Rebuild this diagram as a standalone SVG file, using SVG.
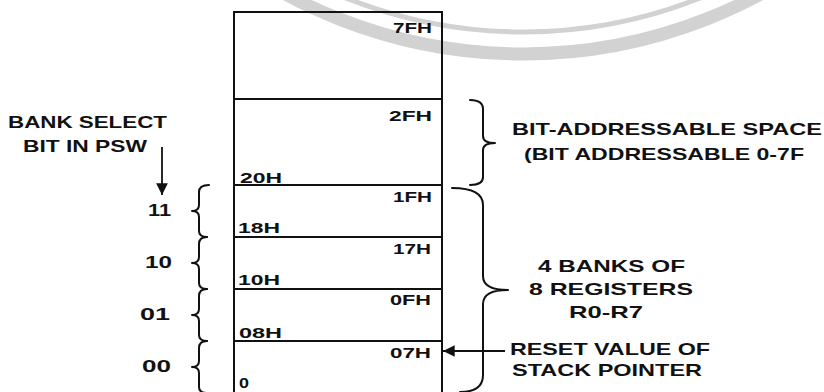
<svg xmlns="http://www.w3.org/2000/svg" width="824" height="392" viewBox="0 0 824 392">
<style>
  .t { font-family: "Liberation Sans", Arial, sans-serif; font-weight: bold; fill: #111; }
  .big { font-size: 17px; }
  .sm { font-size: 14px; }
  .blk { fill: none; stroke: #111; stroke-width: 2; }
  .brace { fill: none; stroke: #111; stroke-width: 2; stroke-linecap: round; stroke-linejoin: round; }
  .ln { fill: none; stroke: #111; stroke-width: 1.8; }
  .wm { fill: none; stroke: #d2d2d2; }
</style>
<defs>
  <marker id="ah" viewBox="0 0 10 10" refX="10" refY="5" markerWidth="6.5" markerHeight="6.5" orient="auto" markerUnits="strokeWidth">
    <path d="M0,0 L10,5 L0,10 Z" fill="#111"/>
  </marker>
</defs>
<rect width="824" height="392" fill="#fff"/>
<g id="watermark">
  <circle class="wm" cx="523" cy="-446" r="500" stroke-width="13"/>
  <circle class="wm" cx="523" cy="-446" r="478" stroke-width="5" stroke="#dedede"/>
</g>
<g id="block-7F">
  <rect class="blk" x="234" y="12" width="208" height="87"/>
  <text class="t sm" x="393" y="33" textLength="39" lengthAdjust="spacingAndGlyphs">7FH</text>
</g>
<g id="block-bit-addressable">
  <rect class="blk" x="234" y="99" width="208" height="86"/>
  <text class="t sm" x="389" y="121" textLength="43" lengthAdjust="spacingAndGlyphs">2FH</text>
  <text class="t sm" x="240" y="183" textLength="42" lengthAdjust="spacingAndGlyphs">20H</text>
</g>
<g id="bank-3">
  <rect class="blk" x="234" y="185" width="208" height="52"/>
  <text class="t sm" x="393" y="202" textLength="39" lengthAdjust="spacingAndGlyphs">1FH</text>
  <text class="t sm" x="238" y="233" textLength="42" lengthAdjust="spacingAndGlyphs">18H</text>
</g>
<g id="bank-2">
  <rect class="blk" x="234" y="237" width="208" height="52"/>
  <text class="t sm" x="393" y="254" textLength="38" lengthAdjust="spacingAndGlyphs">17H</text>
  <text class="t sm" x="238" y="285" textLength="42" lengthAdjust="spacingAndGlyphs">10H</text>
</g>
<g id="bank-1">
  <rect class="blk" x="234" y="289" width="208" height="52"/>
  <text class="t sm" x="390" y="305" textLength="41" lengthAdjust="spacingAndGlyphs">0FH</text>
  <text class="t sm" x="239" y="338" textLength="43" lengthAdjust="spacingAndGlyphs">08H</text>
</g>
<g id="bank-0">
  <rect class="blk" x="234" y="341" width="208" height="62"/>
  <text class="t sm" x="390" y="358" textLength="41" lengthAdjust="spacingAndGlyphs">07H</text>
  <text class="t sm" x="239" y="388" textLength="10" lengthAdjust="spacingAndGlyphs">0</text>
</g>
<g id="label-bank-select">
  <text class="t big" x="8" y="128" textLength="159" lengthAdjust="spacingAndGlyphs">BANK SELECT</text>
  <text class="t big" x="23" y="152" textLength="124" lengthAdjust="spacingAndGlyphs">BIT IN PSW</text>
</g>
<g id="label-bank-bits">
  <text class="t big" x="148" y="216" textLength="23" lengthAdjust="spacingAndGlyphs">11</text>
  <text class="t big" x="145" y="268" textLength="27" lengthAdjust="spacingAndGlyphs">10</text>
  <text class="t big" x="140" y="320" textLength="30" lengthAdjust="spacingAndGlyphs">01</text>
  <text class="t big" x="142" y="372" textLength="29" lengthAdjust="spacingAndGlyphs">00</text>
</g>
<g id="label-bit-addressable">
  <text class="t big" x="512" y="135" textLength="310" lengthAdjust="spacingAndGlyphs">BIT-ADDRESSABLE SPACE</text>
  <text class="t big" x="524" y="160" textLength="280" lengthAdjust="spacingAndGlyphs">(BIT ADDRESSABLE 0-7F</text>
</g>
<g id="label-banks">
  <text class="t big" x="538" y="272" textLength="147" lengthAdjust="spacingAndGlyphs">4 BANKS OF</text>
  <text class="t big" x="529" y="295" textLength="164" lengthAdjust="spacingAndGlyphs">8 REGISTERS</text>
  <text class="t big" x="569" y="318" textLength="74" lengthAdjust="spacingAndGlyphs">R0-R7</text>
</g>
<g id="label-stack-pointer">
  <text class="t big" x="510" y="355" textLength="200" lengthAdjust="spacingAndGlyphs">RESET VALUE OF</text>
  <text class="t big" x="512" y="376" textLength="190" lengthAdjust="spacingAndGlyphs">STACK POINTER</text>
</g>
<g id="connectors">
  <path class="brace" d="M209,185 Q199,185 199,192 L199,205 Q199,211 192,211 Q199,211 199,217 L199,231 Q199,237 207,237"/>
  <path class="brace" d="M207,237 Q199,237 199,244 L199,257 Q199,263 192,263 Q199,263 199,269 L199,283 Q199,289 207,289"/>
  <path class="brace" d="M207,289 Q199,289 199,296 L199,309 Q199,315 192,315 Q199,315 199,321 L199,335 Q199,341 207,341"/>
  <path class="brace" d="M207,341 Q199,341 199,348 L199,361 Q199,367 192,367 Q199,367 199,373 L199,387 Q199,393 207,393"/>
  <path class="brace" d="M470,100 Q483,100 483,109 L483,136 Q483,143 495,143 Q483,143 483,150 L483,177 Q483,185 470,185"/>
  <path class="brace" d="M452,188 Q483,188 483,205 L483,276 Q483,290 508,290 Q483,290 483,304 L483,375 Q483,392 460,392"/>
  <line class="ln" x1="162" y1="147" x2="162" y2="195" marker-end="url(#ah)"/>
  <line class="ln" x1="505" y1="351" x2="443" y2="351" marker-end="url(#ah)"/>
</g>
</svg>
